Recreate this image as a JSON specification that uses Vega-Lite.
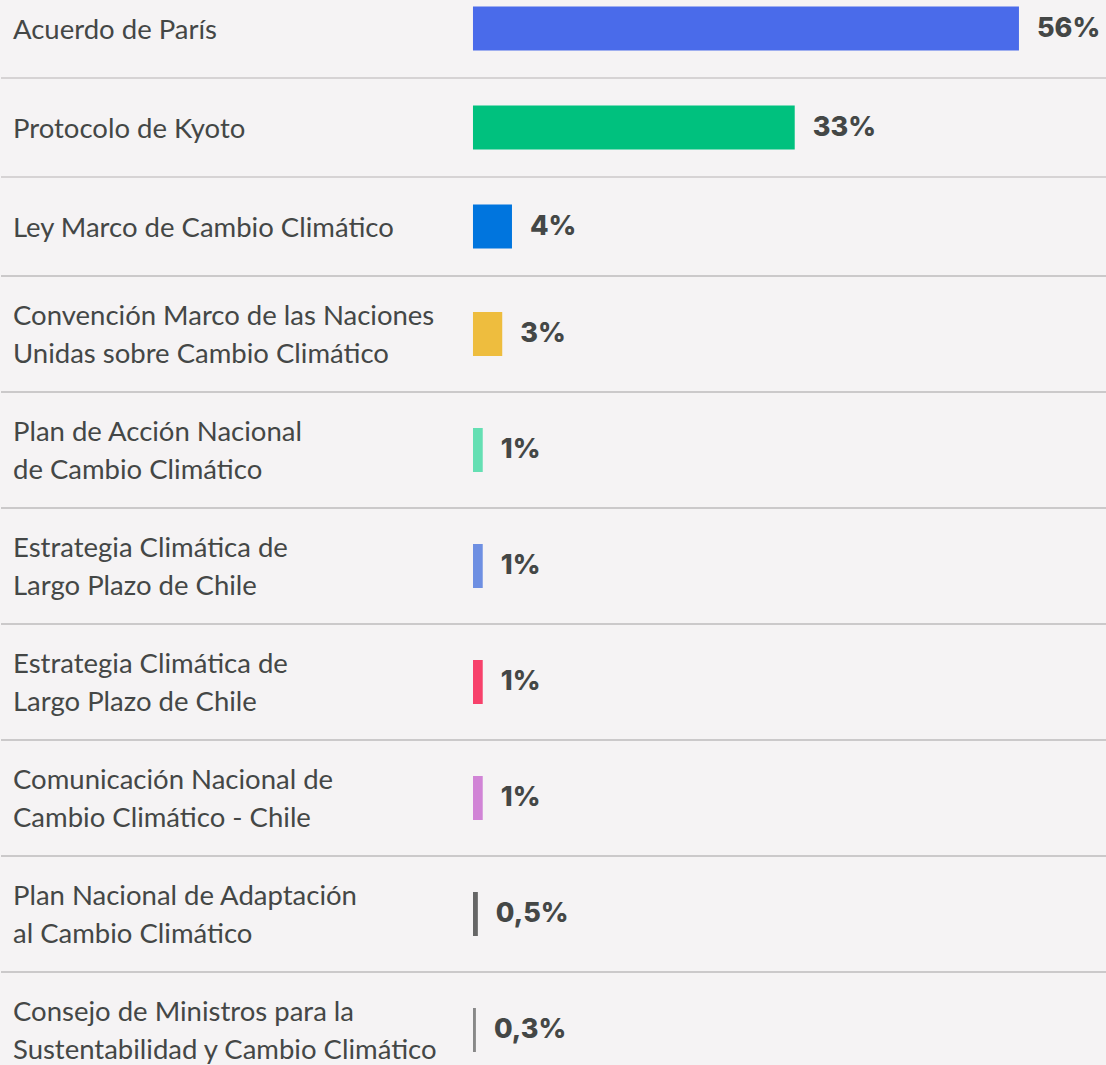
{
  "$schema": "https://vega.github.io/schema/vega-lite/v6.json",
  "background": "#f5f3f4",
  "padding": {"top": -22, "left": 0, "right": 0, "bottom": -22},
  "spacing": 0,
  "bounds": "flush",
  "datasets": {
    "filas": [
      {"orden": 1, "nombre": "Acuerdo de París", "valor": 56, "etiqueta": "56%"},
      {"orden": 2, "nombre": "Protocolo de Kyoto", "valor": 33, "etiqueta": "33%"},
      {"orden": 3, "nombre": "Ley Marco de Cambio Climático", "valor": 4, "etiqueta": "4%"},
      {"orden": 4, "nombre": "Convención Marco de las Naciones\nUnidas sobre Cambio Climático", "valor": 3, "etiqueta": "3%"},
      {"orden": 5, "nombre": "Plan de Acción Nacional\nde Cambio Climático", "valor": 1, "etiqueta": "1%"},
      {"orden": 6, "nombre": "Estrategia Climática de\nLargo Plazo de Chile", "valor": 1, "etiqueta": "1%"},
      {"orden": 7, "nombre": "Estrategia Climática de\nLargo Plazo de Chile", "valor": 1, "etiqueta": "1%"},
      {"orden": 8, "nombre": "Comunicación Nacional de\nCambio Climático - Chile", "valor": 1, "etiqueta": "1%"},
      {"orden": 9, "nombre": "Plan Nacional de Adaptación\nal Cambio Climático", "valor": 0.5, "etiqueta": "0,5%"},
      {"orden": 10, "nombre": "Consejo de Ministros para la\nSustentabilidad y Cambio Climático", "valor": 0.3, "etiqueta": "0,3%"}
    ]
  },
  "vconcat": [
    {
      "width": 1106,
      "height": {"step": 99},
      "data": {"name": "filas"},
      "transform": [{"filter": "datum.orden <= 3"}],
      "encoding": {
        "y": {"field": "orden", "type": "ordinal", "axis": null, "scale": {"paddingInner": 0, "paddingOuter": 0}}
      },
      "layer": [
        {
          "mark": {"type": "rule", "stroke": "#cbc9ca", "strokeWidth": 1.5},
          "encoding": {"y": {"field": "orden", "type": "ordinal", "bandPosition": 0, "axis": null}}
        },
        {
          "mark": {"type": "bar", "size": 44},
          "encoding": {
            "x": {"field": "valor", "type": "quantitative", "axis": null, "scale": {"domain": [-48.41, 65.03], "nice": false, "zero": false}},
            "color": {"field": "orden", "type": "nominal", "legend": null,
              "scale": {"domain": [1,2,3,4,5,6,7,8,9,10], "range": ["#4a6bea","#00c17e","#0075de","#eebd3e","#65dfb3","#6e8fe2","#f7416b","#d184d6","#666666","#888888"]}}
          }
        },
        {
          "mark": {"type": "text", "align": "left", "baseline": "middle", "dx": 18, "font": "Inter", "fontWeight": 800, "fontSize": 27, "color": "#444746"},
          "encoding": {
            "x": {"field": "valor", "type": "quantitative"},
            "text": {"field": "etiqueta"}
          }
        },
        {
          "mark": {"type": "text", "align": "left", "baseline": "middle", "dy": 2, "lineBreak": "\n", "lineHeight": 38, "font": "Lato", "fontSize": 27.5, "color": "#444746"},
          "encoding": {
            "x": {"datum": -47.18},
            "text": {"field": "nombre"}
          }
        }
      ]
    },
    {
      "width": 1106,
      "height": {"step": 116},
      "data": {"name": "filas"},
      "transform": [{"filter": "datum.orden > 3"}],
      "encoding": {
        "y": {"field": "orden", "type": "ordinal", "axis": null, "scale": {"paddingInner": 0, "paddingOuter": 0}}
      },
      "layer": [
        {
          "mark": {"type": "rule", "stroke": "#bdbbbc", "strokeWidth": 1.5},
          "encoding": {"y": {"field": "orden", "type": "ordinal", "bandPosition": 0, "axis": null}}
        },
        {
          "mark": {"type": "bar", "size": 44},
          "encoding": {
            "x": {"field": "valor", "type": "quantitative", "axis": null, "scale": {"domain": [-48.41, 65.03], "nice": false, "zero": false}},
            "color": {"field": "orden", "type": "nominal", "legend": null,
              "scale": {"domain": [1,2,3,4,5,6,7,8,9,10], "range": ["#4a6bea","#00c17e","#0075de","#eebd3e","#65dfb3","#6e8fe2","#f7416b","#d184d6","#666666","#888888"]}}
          }
        },
        {
          "mark": {"type": "text", "align": "left", "baseline": "middle", "dx": 18, "font": "Inter", "fontWeight": 800, "fontSize": 27, "color": "#444746"},
          "encoding": {
            "x": {"field": "valor", "type": "quantitative"},
            "text": {"field": "etiqueta"}
          }
        },
        {
          "mark": {"type": "text", "align": "left", "baseline": "middle", "dy": -17, "lineBreak": "\n", "lineHeight": 38, "font": "Lato", "fontSize": 27.5, "color": "#444746"},
          "encoding": {
            "x": {"datum": -47.18},
            "text": {"field": "nombre"}
          }
        }
      ]
    }
  ],
  "config": {"view": {"stroke": null}}
}
